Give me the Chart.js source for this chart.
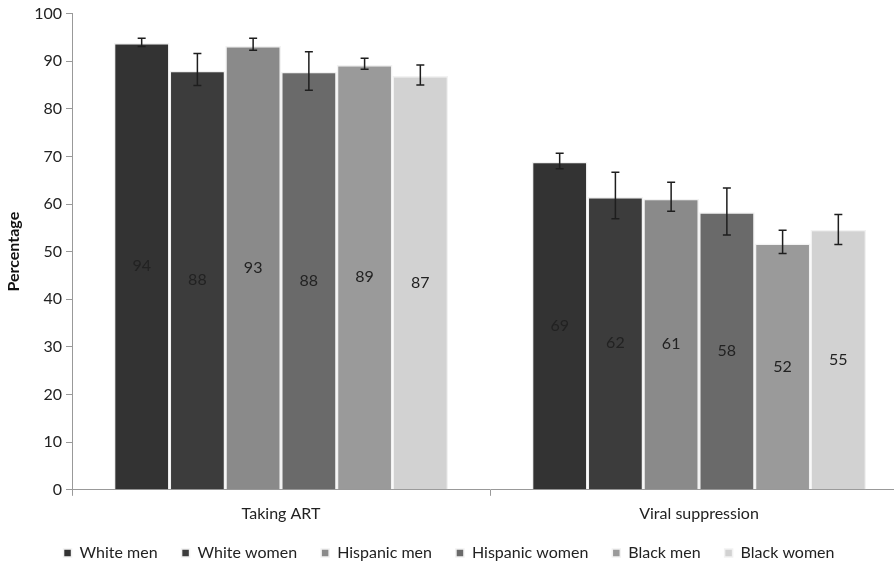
<!DOCTYPE html>
<html>
<head>
<meta charset="utf-8">
<script src="https://cdn.jsdelivr.net/npm/chart.js@4"></script>
<style>
  html, body { margin: 0; padding: 0; background: #fff; overflow: hidden; }
  #wrap { width: 916px; height: 573px; }
</style>
</head>
<body>
<div id="wrap"><canvas id="grafico"></canvas></div>
<script>
const categorias = ['Taking ART', 'Viral suppression'];
const grupos = ['White men', 'White women', 'Hispanic men', 'Hispanic women', 'Black men', 'Black women'];
const colores = ['#333333', '#3c3c3c', '#8a8a8a', '#6a6a6a', '#9a9a9a', '#d2d2d2'];

const whiteMen = [93.8, 68.9];
const whiteWomen = [88.0, 61.5];
const hispanicMen = [93.2, 61.1];
const hispanicWomen = [87.8, 58.3];
const blackMen = [89.2, 51.7];
const blackWomen = [86.9, 54.6];

// error bars [low, high] for each category
const whiteMenErr = [[93.1, 94.8], [67.4, 70.7]];
const whiteWomenErr = [[84.9, 91.6], [56.9, 66.7]];
const hispanicMenErr = [[92.3, 94.8], [58.5, 64.6]];
const hispanicWomenErr = [[83.9, 92.0], [53.5, 63.4]];
const blackMenErr = [[88.3, 90.6], [49.6, 54.5]];
const blackWomenErr = [[85.0, 89.2], [51.5, 57.8]];

const yTicks = [0, 10, 20, 30, 40, 50, 60, 70, 80, 90, 100];

const series = [whiteMen, whiteWomen, hispanicMen, hispanicWomen, blackMen, blackWomen];
const errores = [whiteMenErr, whiteWomenErr, hispanicMenErr, hispanicWomenErr, blackMenErr, blackWomenErr];

const fuente = 'Lato, "Open Sans", sans-serif';

const erroresPlugin = {
  id: 'errores',
  afterDatasetsDraw(chart) {
    const ctx = chart.ctx;
    const y = chart.scales.y;
    ctx.save();
    chart.data.datasets.forEach((ds, i) => {
      const meta = chart.getDatasetMeta(i);
      meta.data.forEach((bar, j) => {
        // value label in the middle of the bar
        ctx.fillStyle = '#222';
        ctx.font = '16px ' + fuente;
        ctx.textAlign = 'center';
        ctx.textBaseline = 'middle';
        ctx.fillText(Math.round(ds.data[j]), bar.x, (bar.y + bar.base) / 2);

        const e = errores[i][j];
        const y1 = y.getPixelForValue(e[0]);
        const y2 = y.getPixelForValue(e[1]);
        ctx.strokeStyle = '#1e1e1e';
        ctx.lineWidth = 1.5;
        ctx.beginPath();
        ctx.moveTo(bar.x, y1);
        ctx.lineTo(bar.x, y2);
        ctx.moveTo(bar.x - 4, y1);
        ctx.lineTo(bar.x + 4, y1);
        ctx.moveTo(bar.x - 4, y2);
        ctx.lineTo(bar.x + 4, y2);
        ctx.stroke();
      });
    });
    ctx.restore();
  }
};

const ctx = document.getElementById('grafico').getContext('2d');
new Chart(ctx, {
  type: 'bar',
  data: {
    labels: categorias,
    datasets: grupos.map((g, i) => ({
      label: g,
      data: series[i],
      backgroundColor: colores[i],
      borderColor: '#f2f2f2',
      borderWidth: 1.5,
      categoryPercentage: 0.8,
      barPercentage: 1
    }))
  },
  options: {
    responsive: true,
    maintainAspectRatio: false,
    animation: false,
    layout: { padding: { top: 6, right: 8, left: 0, bottom: 2 } },
    plugins: {
      tooltip: { enabled: false },
      legend: {
        position: 'bottom',
        labels: {
          boxWidth: 8,
          boxHeight: 8,
          padding: 14,
          color: '#222',
          font: { family: fuente, size: 16 },
          // a little extra room after each name, like the original legend
          generateLabels: (chart) => Chart.defaults.plugins.legend.labels.generateLabels(chart)
            .map(item => Object.assign(item, { text: item.text + '\u2002\u2009' }))
        }
      }
    },
    scales: {
      x: {
        grid: { display: true, drawOnChartArea: false, offset: true, tickLength: 6, color: '#999' },
        border: { color: '#999' },
        ticks: { color: '#222', font: { family: fuente, size: 16 }, padding: 8 }
      },
      y: {
        min: 0,
        max: 100,
        afterBuildTicks: (s) => { s.ticks = yTicks.map(v => ({ value: v })); },
        afterFit: (s) => { s.width = 72; },
        title: { display: true, text: 'Percentage', color: '#111', font: { family: fuente, size: 16, weight: 'bold' } },
        grid: { display: true, drawOnChartArea: false, tickLength: 6, color: '#999' },
        border: { color: '#999' },
        ticks: { color: '#222', font: { family: fuente, size: 16 }, padding: 4 }
      }
    }
  },
  plugins: [erroresPlugin]
});
</script>
</body>
</html>
